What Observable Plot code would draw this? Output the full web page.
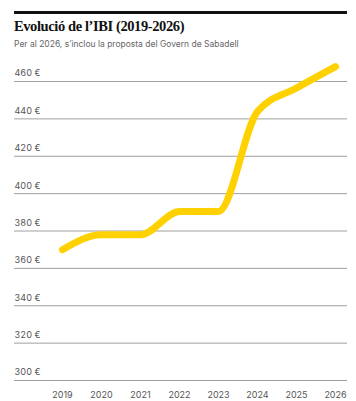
<!DOCTYPE html>
<html>
<head>
<meta charset="utf-8">
<script src="https://cdn.jsdelivr.net/npm/d3@7"></script>
<script src="https://cdn.jsdelivr.net/npm/@observablehq/plot@0.6"></script>
<style>
  html, body { margin: 0; padding: 0; background: #fff; }
  #wrap { position: relative; width: 356px; height: 401px; overflow: hidden; }
  #rule { position: absolute; left: 14px; top: 11px; width: 333px; height: 3px; background: #111; }
  #title { position: absolute; left: 14px; top: 18px; font-family: "Liberation Serif", serif; font-weight: bold; font-size: 14.5px; color: #111; white-space: nowrap; letter-spacing: -0.4px; }
  #subtitle { position: absolute; left: 14px; top: 39px; font-family: Inter, sans-serif; font-size: 8.5px; color: #666; white-space: nowrap; }
  #chart { position: absolute; left: 0; top: 52px; }
</style>
</head>
<body>
<div id="wrap">
  <div id="rule"></div>
  <div id="title">Evolució de l’IBI (2019-2026)</div>
  <div id="subtitle">Per al 2026, s’inclou la proposta del Govern de Sabadell</div>
  <div id="chart"></div>
</div>
<script>
const years = [2019, 2020, 2021, 2022, 2023, 2024, 2025, 2026];
const ibi = [370, 378, 378, 390.5, 390.5, 444, 456.5, 468];
const yTicks = [300, 320, 340, 360, 380, 400, 420, 440, 460];

const data = years.map((y, i) => ({year: y, value: ibi[i]}));

const chart = Plot.plot({
  width: 356,
  height: 349,
  marginLeft: 14,
  marginRight: 9,
  marginTop: 29,
  marginBottom: 21,
  style: {fontFamily: "Inter, sans-serif", fontSize: "9px", color: "#555", background: "#fff"},
  x: {type: "point", domain: years, range: [60, 336], padding: 0, label: null},
  y: {domain: [300, 460], label: null},
  marks: [
    Plot.ruleY(yTicks, {stroke: "#a0a0a0", strokeWidth: 1}),
    Plot.axisY(yTicks, {tickSize: 0, tickPadding: 0, textAnchor: "start", dx: 0, dy: -8, tickFormat: d => d + " €", fill: "#555", label: null}),
    Plot.axisX(years, {tickSize: 0, tickPadding: 11, tickFormat: d => String(d), fill: "#555", label: null}),
    Plot.line(data, {x: "year", y: "value", stroke: "#ffd100", strokeWidth: 7, curve: "monotone-x", strokeLinecap: "round", strokeLinejoin: "round"})
  ]
});
document.getElementById("chart").appendChild(chart);
</script>
</body>
</html>
